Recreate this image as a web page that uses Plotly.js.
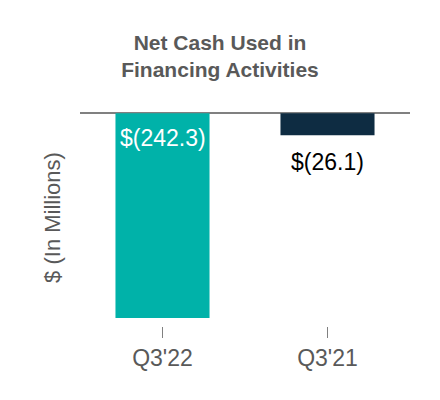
<!DOCTYPE html>
<html>
<head>
<meta charset="utf-8">
<script src="https://cdn.plot.ly/plotly-3.0.1.min.js"></script>
<style>html,body{margin:0;padding:0;background:#fff;}#chart{width:440px;height:400px;}</style>
</head>
<body>
<div id="chart"></div>
<script>
var categories = ["Q3'22", "Q3'21"];
var values = [-242.3, -26.1];
var barColors = ["#00B2A9", "#0E2C42"];
var labelText = values.map(function (v) { return "$(" + Math.abs(v).toFixed(1) + ")"; });
var labelInside = [true, false];

var trace = {
  type: "bar",
  x: categories,
  y: values,
  marker: { color: barColors },
  hoverinfo: "none"
};

var annotations = categories.map(function (c, i) {
  return {
    x: c,
    y: labelInside[i] ? 0 : values[i],
    xref: "x",
    yref: "y",
    text: labelText[i],
    showarrow: false,
    xanchor: "center",
    yanchor: "top",
    yshift: labelInside[i] ? -10 : -12,
    font: { family: "Liberation Sans, Arial, sans-serif", size: 23, color: labelInside[i] ? "#ffffff" : "#000000" }
  };
});

var layout = {
  width: 440,
  height: 400,
  margin: { l: 80, r: 30, t: 109, b: 74 },
  paper_bgcolor: "#ffffff",
  plot_bgcolor: "#ffffff",
  bargap: 0.43,
  showlegend: false,
  annotations: annotations,
  title: {
    text: "<b>Net Cash Used in<br>Financing Activities</b>",
    font: { family: "Liberation Sans, Arial, sans-serif", size: 21, color: "#595959" },
    x: 0.5, xanchor: "center", y: 0.875, yanchor: "middle"
  },
  xaxis: {
    type: "category",
    showline: false,
    showgrid: false,
    ticks: "outside",
    ticklen: 11,
    tickwidth: 1,
    tickcolor: "#808080",
    tickfont: { family: "Liberation Sans, Arial, sans-serif", size: 23, color: "#595959" },
    fixedrange: true
  },
  yaxis: {
    range: [-251.8, 5],
    showgrid: false,
    showticklabels: false,
    ticks: "",
    zeroline: true,
    zerolinecolor: "#808080",
    zerolinewidth: 2,
    title: {
      text: "$ (In Millions)",
      font: { family: "Liberation Sans, Arial, sans-serif", size: 22, color: "#595959" },
      standoff: 12
    },
    fixedrange: true
  }
};

Plotly.newPlot("chart", [trace], layout, { displayModeBar: false, staticPlot: true });
</script>
</body>
</html>
